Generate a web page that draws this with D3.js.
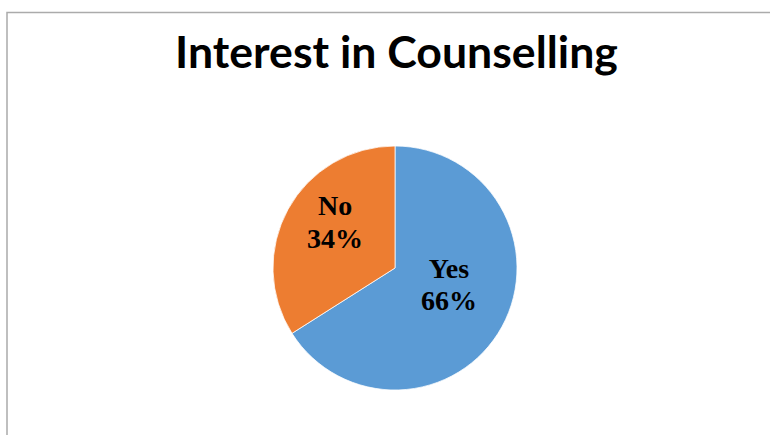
<!DOCTYPE html>
<html>
<head>
<meta charset="utf-8">
<script src="https://cdn.jsdelivr.net/npm/d3@7"></script>
<style>
  html, body { margin: 0; padding: 0; background: #fff; }
  svg { display: block; }
</style>
</head>
<body>
<div id="chart"></div>
<script>
const categories = ['Yes', 'No'];
const shares = [66, 34];
const sliceColors = ['#5B9BD5', '#ED7D31'];
const chartTitle = 'Interest in Counselling';

const width = 770, height = 435;
const cx = 395, cy = 268, radius = 122;

const svg = d3.select('#chart')
              .append('svg')
              .attr('width', width)
              .attr('height', height);

// chart area border (right and bottom run off the picture)
svg.append('rect')
   .attr('x', 7)
   .attr('y', 12.5)
   .attr('width', 800)
   .attr('height', 500)
   .attr('fill', 'none')
   .attr('stroke', '#ababab')
   .attr('stroke-width', 1.5);

const title = svg.append('text')
   .attr('x', 396.5)
   .attr('y', 68)
   .attr('text-anchor', 'middle')
   .style('font-family', 'Lato, "Open Sans", sans-serif')
   .style('font-weight', 700)
   .style('font-size', '36px')
   .attr('fill', '#000')
   .text(chartTitle);

// squeeze/stretch the title to the width it has in the reference
const tw = title.node().getComputedTextLength();
title.style('font-size', (36 * 443 / tw) + 'px');

const data = categories.map((c, i) => ({ label: c, value: shares[i], color: sliceColors[i] }));

const pie = d3.pie()
              .sort(null)
              .value(d => d.value);

const arc = d3.arc()
              .innerRadius(0)
              .outerRadius(radius);

const labelArc = d3.arc()
                   .innerRadius(65)
                   .outerRadius(65);

const g = svg.append('g')
             .attr('transform', `translate(${cx},${cy})`);

g.selectAll('path')
 .data(pie(data))
 .enter()
 .append('path')
 .attr('d', arc)
 .attr('fill', d => d.data.color)
 .attr('stroke', '#fff')
 .attr('stroke-width', 0.75);

const labels = g.selectAll('text.lbl')
  .data(pie(data))
  .enter()
  .append('text')
  .attr('class', 'lbl')
  .attr('transform', d => {
      const [x, y] = labelArc.centroid(d);
      return `translate(${x - 3},${y - 16})`;
  })
  .attr('text-anchor', 'middle')
  .style('font-family', '"Liberation Serif", "Times New Roman", serif')
  .style('font-weight', 700)
  .style('font-size', '28px')
  .attr('fill', '#000');

labels.append('tspan')
      .attr('x', 0)
      .attr('dy', '-0.2em')
      .text(d => d.data.label);

labels.append('tspan')
      .attr('x', 0)
      .attr('dy', '1.16em')
      .text(d => d.data.value + '%');
</script>
</body>
</html>
